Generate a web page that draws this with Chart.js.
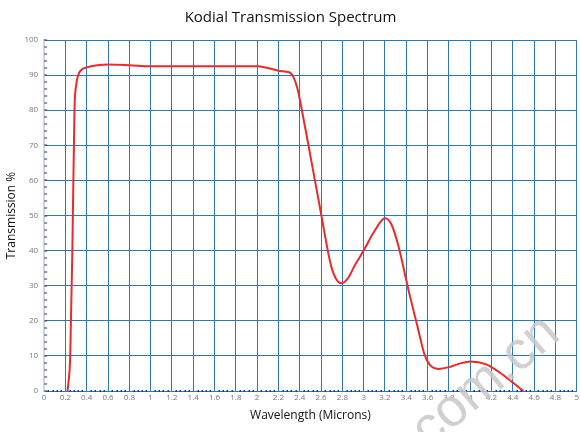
<!DOCTYPE html>
<html>
<head>
<meta charset="utf-8">
<script src="https://cdn.jsdelivr.net/npm/chart.js@4"></script>
<style>
  html, body { margin: 0; padding: 0; background: #fff; }
  #wrap { width: 581px; height: 432px; }
</style>
</head>
<body>
<div id="wrap"><canvas id="chart1"></canvas></div>
<script>
// wavelength in microns, transmission in %
const wavelength = [0.22, 0.245, 0.265, 0.285, 0.30, 0.32, 0.35, 0.4, 0.5, 0.6, 0.8, 1.0, 1.5, 2.0, 2.1, 2.21, 2.3, 2.34, 2.38, 2.42, 2.5, 2.6, 2.7, 2.79, 2.85, 2.92, 3.0, 3.1, 3.2, 3.26, 3.32, 3.43, 3.5, 3.57, 3.62, 3.7, 3.8, 3.9, 4.0, 4.15, 4.28, 4.4, 4.5];
const transmission = [0, 10, 40, 80, 87, 90, 91.5, 92.2, 92.8, 93, 92.8, 92.5, 92.5, 92.5, 92, 91.2, 90.8, 89.5, 86, 80, 67, 50.5, 35, 30.7, 32, 36, 40, 45.5, 49.2, 47.5, 42, 27.6, 19, 10.5, 7.5, 6.3, 6.8, 7.8, 8.4, 7.6, 5.2, 2.4, 0];

const gridBlue = '#2b78bd';
const tickNavy = '#1f3a8a';
const red = '#f02828';

// small dark ticks along both axes
const minorTicks = {
    id: 'minorTicks',
    afterDatasetsDraw(chart) {
        const { ctx, scales: { x, y } } = chart;
        ctx.save();
        ctx.fillStyle = tickNavy;
        for (let v = 0; v <= 100; v += 2) {
            const py = Math.round(y.getPixelForValue(v));
            ctx.fillRect(x.left, py - 0.5, 3, 1);
        }
        for (let i = 1; i < 125; i++) {
            if (i % 5 === 0) continue;
            const px = Math.round(x.getPixelForValue(i * 0.04));
            ctx.fillRect(px - 0.5, y.bottom - 1, 1.5, 2);
        }
        ctx.restore();
    }
};

const watermark = {
    id: 'watermark',
    afterDraw(chart) {
        const ctx = chart.ctx;
        ctx.save();
        ctx.translate(486, 382);
        ctx.rotate(-40 * Math.PI / 180);
        ctx.font = '54px "Liberation Sans", Arial, sans-serif';
        ctx.fillStyle = 'rgba(200,200,200,0.85)';
        ctx.textAlign = 'center';
        ctx.textBaseline = 'middle';
        ctx.fillText('com.cn', 0, 0);
        ctx.restore();
    }
};

const points = wavelength.map((w, i) => ({ x: w, y: transmission[i] }));

new Chart(document.getElementById('chart1'), {
    type: 'scatter',
    data: {
        datasets: [{
            data: points,
            showLine: true,
            borderColor: red,
            borderWidth: 2,
            pointRadius: 0,
            cubicInterpolationMode: 'monotone'
        }]
    },
    options: {
        responsive: true,
        maintainAspectRatio: false,
        animation: false,
        layout: { padding: { left: 4, right: 4, top: 0, bottom: 9 } },
        plugins: {
            legend: { display: false },
            tooltip: { enabled: false },
            title: {
                display: true,
                text: 'Kodial Transmission Spectrum',
                color: '#111',
                font: { family: "'Open Sans', sans-serif", size: 15, weight: 'normal' },
                padding: { top: 9, bottom: 13 }
            }
        },
        scales: {
            x: {
                type: 'linear',
                min: 0,
                max: 5,
                ticks: {
                    stepSize: 0.2,
                    color: '#777',
                    font: { family: "'Open Sans', sans-serif", size: 8 },
                    maxRotation: 0,
                    autoSkip: false,
                    padding: 2,
                    callback: v => Math.round(v * 10) / 10
                },
                grid: { color: gridBlue, lineWidth: 1, drawTicks: false },
                border: { color: gridBlue },
                title: {
                    display: true,
                    text: 'Wavelength (Microns)',
                    color: '#111',
                    font: { family: "'Open Sans', sans-serif", size: 12 },
                    padding: { top: 4, bottom: 0 }
                }
            },
            y: {
                min: 0,
                max: 100,
                ticks: {
                    stepSize: 10,
                    color: '#777',
                    font: { family: "'Open Sans', sans-serif", size: 8 },
                    padding: 6
                },
                grid: { color: gridBlue, lineWidth: 1, drawTicks: false },
                border: { color: '#d6d6d6', width: 2 },
                title: {
                    display: true,
                    text: 'Transmission %',
                    color: '#111',
                    font: { family: "'Open Sans', sans-serif", size: 12 },
                    padding: { top: 0, bottom: 0 }
                }
            }
        }
    },
    plugins: [minorTicks, watermark]
});
</script>
</body>
</html>
